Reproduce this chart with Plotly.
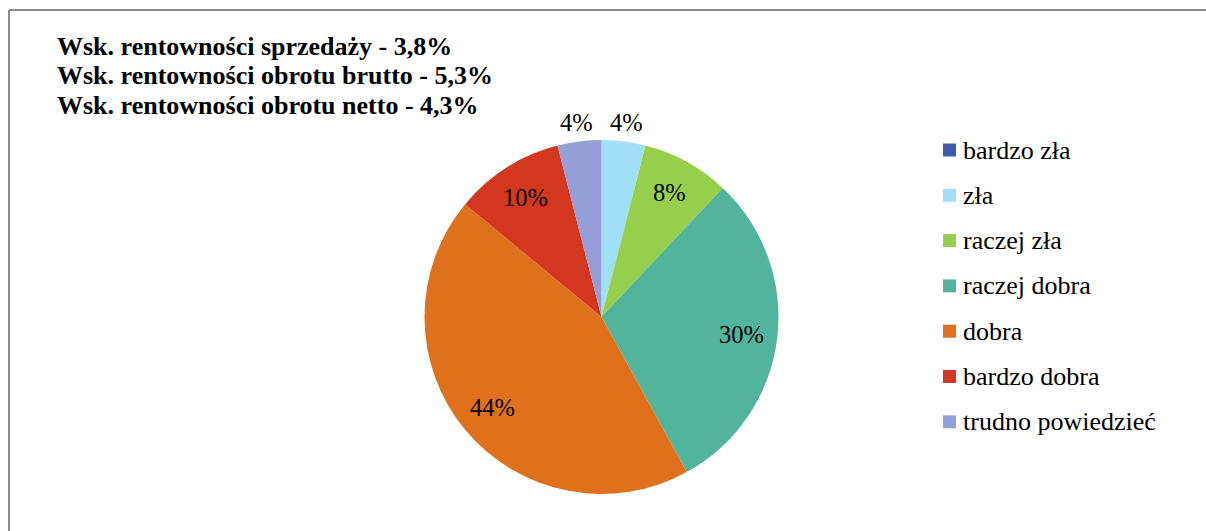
import math
import plotly.graph_objects as go

# Survey answers: assessment of the company's financial situation
categories = ["bardzo zła", "zła", "raczej zła", "raczej dobra", "dobra",
              "bardzo dobra", "trudno powiedzieć"]
shares = [0, 4, 8, 30, 44, 10, 4]
colors = ["#3F58AE", "#A0DFF5", "#95CF4B", "#52B59B", "#E0711C",
          "#D4371F", "#939FD6"]
indicators = [
    "Wsk. rentowności sprzedaży - 3,8%",
    "Wsk. rentowności obrotu brutto - 5,3%",
    "Wsk. rentowności obrotu netto - 4,3%",
]

W, H = 1206, 531
SERIF = "Liberation Serif"


def px(x):
    return x / W


def py(y):
    return 1 - y / H


cx, cy, r = 601.5, 317, 177

fig = go.Figure(go.Pie(
    labels=categories,
    values=shares,
    sort=False,
    direction="clockwise",
    rotation=0,
    marker=dict(colors=colors, line=dict(width=0)),
    textinfo="none",
    domain=dict(x=[px(cx - r), px(cx + r)], y=[py(cy + r), py(cy - r)]),
    showlegend=False,
    hoverinfo="label+percent",
))

shapes = [
    dict(type="line", xref="paper", yref="paper", x0=px(9), x1=px(1210),
         y0=py(10), y1=py(10), line=dict(color="#8C8C8C", width=2)),
    dict(type="line", xref="paper", yref="paper", x0=px(9), x1=px(9),
         y0=py(10), y1=py(540), line=dict(color="#8C8C8C", width=2)),
]
annotations = []

# percentage labels at each slice's mid-angle (small slices go outside)
total = sum(shares)
cum = 0
for v in shares:
    if v > 0:
        mid = (cum + v / 2) / total * 2 * math.pi
        rr = r + 19 if v < 5 else 0.8 * r
        annotations.append(dict(
            x=px(cx + rr * math.sin(mid)), y=py(cy - rr * math.cos(mid)),
            xref="paper", yref="paper", xanchor="center", yanchor="middle",
            showarrow=False, text=f"{v}%",
            font=dict(family=SERIF, size=24.5, color="#000000"),
        ))
    cum += v

# indicator block in the upper-left corner
for i, line in enumerate(indicators):
    annotations.append(dict(
        x=px(55), y=py(46 + 30 * i), xref="paper", yref="paper",
        xanchor="left", yanchor="middle", showarrow=False,
        text=f"<b>{line}</b>",
        font=dict(family=SERIF, size=26, color="#000000"),
    ))

# legend: colour swatch + category name
for i, (name, col) in enumerate(zip(categories, colors)):
    yc = 150 + 45.3 * i
    shapes.append(dict(
        type="rect", xref="paper", yref="paper",
        x0=px(943), x1=px(956), y0=py(yc + 6.5), y1=py(yc - 6.5),
        fillcolor=col, line=dict(width=0),
    ))
    annotations.append(dict(
        x=px(961), y=py(yc), xref="paper", yref="paper",
        xanchor="left", yanchor="middle", showarrow=False,
        text=name, font=dict(family=SERIF, size=26, color="#000000"),
    ))

fig.update_layout(
    width=W, height=H,
    margin=dict(l=0, r=0, t=0, b=0),
    paper_bgcolor="#FFFFFF",
    plot_bgcolor="#FFFFFF",
    shapes=shapes,
    annotations=annotations,
)

fig.write_html("out.html")
